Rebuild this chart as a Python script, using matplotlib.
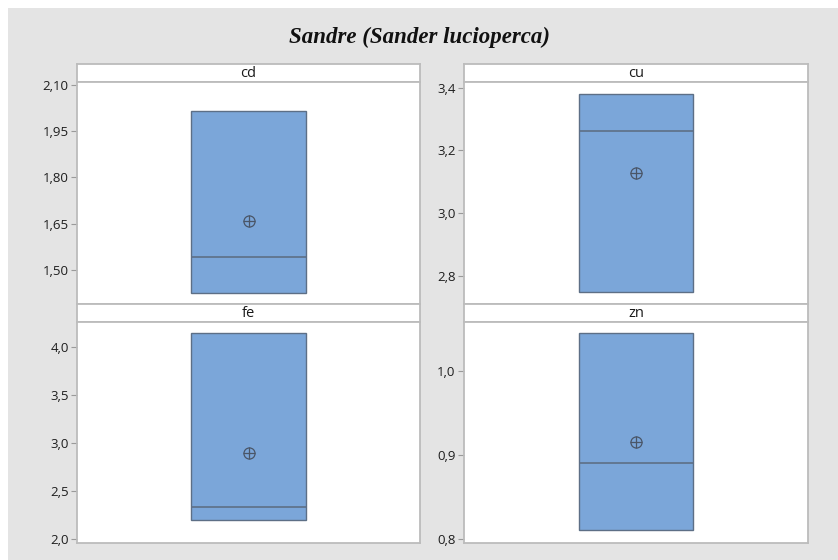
import matplotlib
matplotlib.use("Agg")
import matplotlib.pyplot as plt
from matplotlib.patches import Rectangle
from matplotlib.ticker import FuncFormatter

# Box statistics per element (Q1, median, Q3, mean)
elements = ["cd", "cu", "fe", "zn"]
q1_vals = [1.425, 2.748, 2.201, 0.811]
median_vals = [1.542, 3.263, 2.336, 0.890]
q3_vals = [2.015, 3.381, 4.146, 1.045]
mean_vals = [1.658, 3.128, 2.896, 0.915]

y_limits = [(1.389, 2.110), (2.711, 3.418), (1.961, 4.264), (0.7956, 1.058)]
y_ticks = [
    [1.50, 1.65, 1.80, 1.95, 2.10],
    [2.8, 3.0, 3.2, 3.4],
    [2.0, 2.5, 3.0, 3.5, 4.0],
    [0.8, 0.9, 1.0],
]
tick_decimals = [2, 1, 1, 1]

W, H = 838, 560
BOX_COLOR = "#7ba6d9"
EDGE = "#5d6f86"
FRAME = "#bcbcbc"

fig = plt.figure(figsize=(W / 100, H / 100), dpi=100, facecolor="white")

# grey page behind the panels
fig.patches.append(Rectangle((8 / W, 0), 1, 1 - 8 / H, transform=fig.transFigure,
                             facecolor="#e4e4e4", edgecolor="none", zorder=-10))

fig.text(0.5, 1 - 37 / H, "Sandre (Sander lucioperca)", ha="center", va="center",
         family="Liberation Serif", style="italic", weight="bold", fontsize=16.5,
         color="#111111")


def px_axes(x0, y0, x1, y1):
    return fig.add_axes([x0 / W, 1 - y1 / H, (x1 - x0) / W, (y1 - y0) / H])


cols = [(77, 420), (464, 808)]
rows = [(64, 82, 304), (304, 322, 543)]

for i, name in enumerate(elements):
    r, c = divmod(i, 2)
    x0, x1 = cols[c]
    s0, p0, p1 = rows[r]

    # strip header
    sax = px_axes(x0, s0, x1, p0)
    sax.set_facecolor("white")
    sax.set_xticks([])
    sax.set_yticks([])
    for sp in sax.spines.values():
        sp.set_color(FRAME)
        sp.set_linewidth(1.3)
    sax.text(0.5, 0.45, name, ha="center", va="center", transform=sax.transAxes,
             family="Open Sans", fontsize=10.5, color="#1a1a1a")

    ax = px_axes(x0, p0, x1, p1)
    ax.set_facecolor("white")
    stats = [{
        "q1": q1_vals[i], "med": median_vals[i], "q3": q3_vals[i],
        "whislo": q1_vals[i], "whishi": q3_vals[i], "mean": mean_vals[i],
        "fliers": [],
    }]
    ax.bxp(stats, positions=[0], widths=1.0, patch_artist=True, showcaps=False,
           showfliers=False, showmeans=False,
           boxprops=dict(facecolor=BOX_COLOR, edgecolor=EDGE, linewidth=1.0),
           medianprops=dict(color=EDGE, linewidth=1.2),
           whiskerprops=dict(linewidth=0))
    # mean symbol: circle with cross
    ax.plot(0, mean_vals[i], marker="o", ms=8, mfc="none", mec="#4a5668", mew=0.9)
    ax.plot(0, mean_vals[i], marker="+", ms=8, mec="#4a5668", mew=0.9)

    ax.set_xlim(-1.5, 1.5)
    ax.set_ylim(*y_limits[i])
    ax.set_xticks([])
    ax.set_yticks(y_ticks[i])
    d = tick_decimals[i]
    ax.yaxis.set_major_formatter(
        FuncFormatter(lambda v, _, d=d: f"{v:.{d}f}".replace(".", ",")))
    ax.tick_params(axis="y", length=4, width=0.8, color="#9a9a9a", pad=2,
                   labelsize=9.5, labelcolor="#1e1e1e")
    for lab in ax.get_yticklabels():
        lab.set_family("Open Sans")
    for sp in ax.spines.values():
        sp.set_color(FRAME)
        sp.set_linewidth(1.3)

fig.savefig("out.png", dpi=100, facecolor="white")
